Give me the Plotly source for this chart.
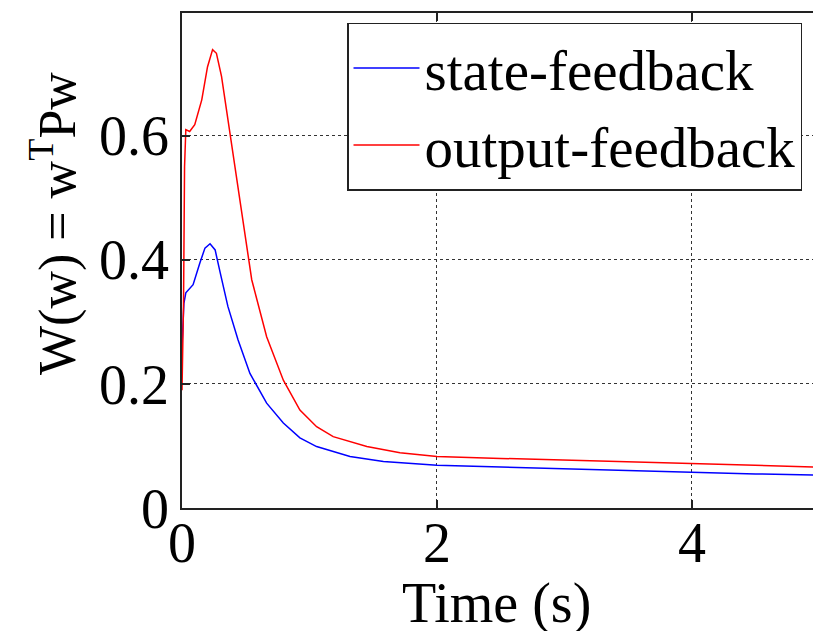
import plotly.graph_objects as go

# Data
t_state = [0.0, 0.008, 0.015, 0.03, 0.087, 0.14, 0.18, 0.22, 0.26, 0.30, 0.36, 0.44,
           0.533, 0.664, 0.795, 0.925, 1.056, 1.318, 1.58, 2.0, 2.5, 3.0, 3.5, 4.0, 4.5, 5.0]
v_state = [0.26, 0.30, 0.33, 0.347, 0.36, 0.395, 0.419, 0.426, 0.416, 0.379, 0.325, 0.271,
           0.217, 0.169, 0.137, 0.113, 0.099, 0.083, 0.075, 0.069, 0.066, 0.063, 0.060, 0.057, 0.055, 0.053]

t_output = [0.0, 0.005, 0.012, 0.02, 0.03, 0.06, 0.10, 0.155, 0.20, 0.24, 0.27, 0.31, 0.376,
            0.455, 0.52, 0.547, 0.664, 0.795, 0.925, 1.056, 1.186, 1.45, 1.71, 2.0, 2.5, 3.0,
            3.5, 4.0, 4.5, 5.0]
v_output = [0.19, 0.25, 0.33, 0.55, 0.61, 0.607, 0.618, 0.658, 0.711, 0.739, 0.733, 0.696, 0.605,
            0.492, 0.405, 0.368, 0.276, 0.206, 0.158, 0.131, 0.115, 0.099, 0.089, 0.083, 0.080, 0.077,
            0.074, 0.071, 0.068, 0.066]

x_ticks = [0, 2, 4]
x_ticklabels = ["0", "2", "4"]
y_ticks = [0, 0.2, 0.4, 0.6]
y_ticklabels = ["0", "0.2", "0.4", "0.6"]

FONT = "Liberation Serif"

fig = go.Figure()
fig.add_trace(go.Scatter(x=t_state, y=v_state, mode="lines", name="state-feedback",
                         line=dict(color="rgb(0,0,255)", width=1.5)))
fig.add_trace(go.Scatter(x=t_output, y=v_output, mode="lines", name="output-feedback",
                         line=dict(color="rgb(255,0,0)", width=1.5)))

axis_common = dict(
    showline=True, linecolor="#222", linewidth=1.5,
    ticks="inside", ticklen=8, tickcolor="#222", tickwidth=1.5,
    showgrid=True, gridcolor="#333", gridwidth=1, griddash="dot",
    zeroline=False,
    tickfont=dict(family=FONT, size=56, color="black"),
)

fig.update_xaxes(range=[0, 4.95], tickvals=x_ticks, ticktext=x_ticklabels,
                 mirror="ticks", showticklabels=False, **axis_common)
fig.update_yaxes(range=[0, 0.798], tickvals=y_ticks, ticktext=y_ticklabels,
                 mirror=False, ticklabelstandoff=0, **axis_common)

annotations = [
    dict(text=lab, xref="x", yref="paper", x=v, y=-(543 - 508) / 495,
         xanchor="center", yanchor="middle", showarrow=False, height=44, valign="middle",
         font=dict(family=FONT, size=56, color="black"))
    for v, lab in zip(x_ticks, x_ticklabels)
]
annotations += [
    dict(text="Time (s)", xref="paper", yref="paper", x=(496 - 182) / 631,
         y=-(603 - 508) / 495, xanchor="center", yanchor="middle", showarrow=False,
         height=56, valign="middle",
         font=dict(family=FONT, size=56, color="black")),
    dict(text="W(w) = w<sup>T</sup>Pw", xref="paper", yref="paper",
         x=(54 - 182) / 631, y=(508 - 224) / 495, xanchor="center", yanchor="middle",
         textangle=-90, showarrow=False,
         font=dict(family=FONT, size=52, color="black")),
]

fig.update_layout(
    width=813, height=633,
    margin=dict(l=182, r=0, t=13, b=125),
    paper_bgcolor="white", plot_bgcolor="white",
    font=dict(family=FONT, color="black"),
    showlegend=True,
    legend=dict(
        x=0.2615, y=0.98, xanchor="left", yanchor="top",
        bgcolor="white", bordercolor="#222", borderwidth=1.5,
        font=dict(family=FONT, size=57, color="black"),
        itemwidth=66, tracegroupgap=0,
    ),
    annotations=annotations,
)

fig.write_html("out.html")
